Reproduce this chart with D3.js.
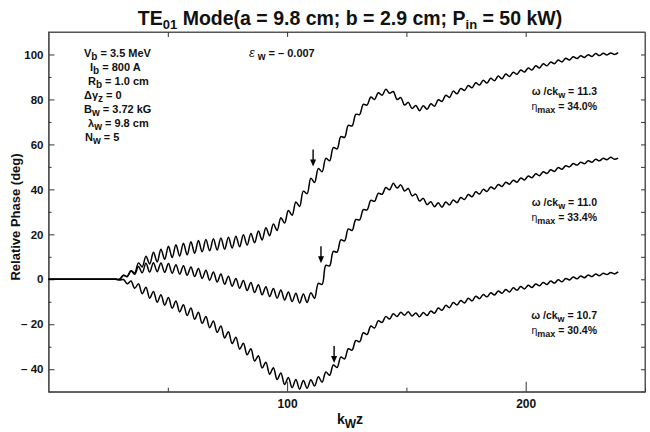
<!DOCTYPE html>
<html>
<head>
<meta charset="utf-8">
<script src="https://cdn.jsdelivr.net/npm/d3@7/dist/d3.min.js"></script>
<style>
  body { margin: 0; background: #fff; }
  svg { display: block; }
  text { font-family: "Liberation Sans", Arial, Helvetica, sans-serif; fill: #111; }
</style>
</head>
<body>
<svg id="chart" width="650" height="432"></svg>
<script>
// Relative phase vs. k_w z, sampled every half period of the wiggler ripple
const kStep = Math.PI / 2;

// omega/ck_w = 11.3
const phaseHigh = [
  0, 0, 0, 0, 0, 0, 0, 0, 0, 0, 0, 0, 0, 0, 0, 0, 0, 0, 0,
  0.0, 1.8, 1.2, 3.8, 2.8, 7.3, 5.5, 10.3, 6.8, 12.0, 7.7, 13.4, 8.9, 14.7, 9.7, 15.4, 10.3, 16.0, 10.9, 16.7,
  11.6, 17.3, 12.2, 17.7, 12.7, 18.0, 13.0, 18.4, 13.4, 18.7, 13.9, 19.2, 14.5, 19.8, 15.2, 20.4, 16.2, 21.5, 17.5, 22.9,
  19.4, 24.6, 21.7, 27.4, 25.0, 30.6, 28.5, 34.4, 32.4, 39.2, 38.1, 45.0, 43.1, 49.3, 47.8, 53.8, 52.7, 58.6, 58.0, 63.5,
  63.1, 68.5, 68.2, 73.4, 73.3, 77.8, 77.5, 81.1, 80.0, 83.0, 81.9, 84.5, 82.8, 83.5, 80.0, 80.8, 77.5, 78.7, 76.0, 77.3,
  75.0, 77.2, 75.6, 78.1, 77.0, 79.9, 79.1, 81.9, 80.9, 83.7, 82.5, 84.9, 84.0, 86.2, 85.2, 87.4, 86.4, 88.5, 87.3, 89.4,
  88.3, 90.4, 89.2, 91.3, 90.2, 92.1, 91.2, 93.1, 92.2, 94.0, 93.1, 95.0, 94.0, 95.9, 95.0, 96.7, 95.9, 97.5, 96.7, 98.3,
  97.5, 99.0, 98.2, 99.4, 98.7, 99.9, 99.1, 100.4, 99.5, 100.5, 99.8, 100.7, 100.0, 100.8
];

// omega/ck_w = 11.0
const phaseMid = [
  0, 0, 0, 0, 0, 0, 0, 0, 0, 0, 0, 0, 0, 0, 0, 0, 0, 0, 0,
  0.0, 1.8, 1.2, 3.8, 2.2, 5.7, 2.9, 7.1, 3.2, 7.4, 3.4, 7.3, 3.1, 7.0, 2.7, 6.5, 2.3, 6.0, 1.8, 5.5,
  1.2, 4.8, 0.4, 4.0, -0.4, 3.2, -1.2, 2.3, -2.2, 1.4, -3.1, 0.4, -4.0, -0.5, -5.0, -1.4, -5.9, -2.4, -6.9, -3.3,
  -7.7, -4.1, -8.4, -4.8, -9.2, -5.6, -9.9, -6.2, -10.5, -6.5, -10.3, -6.0, -8.5, -1.8, -2.3, 6.2, 6.0, 12.4, 12.1, 17.5,
  17.1, 22.4, 21.7, 26.6, 26.4, 31.0, 30.9, 35.1, 34.7, 38.3, 37.8, 40.8, 39.8, 42.7, 40.6, 42.0, 39.3, 40.4, 37.1, 37.9,
  34.8, 36.0, 33.2, 34.5, 32.3, 34.0, 32.1, 34.4, 33.1, 35.3, 34.1, 36.4, 35.5, 37.7, 36.7, 38.9, 37.9, 40.0, 39.1, 41.1,
  40.2, 42.2, 41.3, 43.2, 42.3, 44.1, 43.2, 45.1, 44.2, 45.9, 45.2, 46.9, 46.1, 47.8, 47.1, 48.7, 48.0, 49.7, 49.0, 50.5,
  50.0, 51.5, 50.8, 52.1, 51.4, 52.7, 52.1, 53.4, 52.7, 53.8, 53.2, 54.3, 53.4, 53.9
];

// omega/ck_w = 10.7
const phaseLow = [
  0, 0, 0, 0, 0, 0, 0, 0, 0, 0, 0, 0, 0, 0, 0, 0, 0, 0, 0,
  -0.3, -0.1, -2.0, -0.8, -4.0, -2.0, -6.4, -3.5, -8.4, -5.4, -10.2, -6.9, -11.5, -8.1, -12.9, -9.7, -14.5, -11.3, -16.1, -12.8,
  -17.8, -14.7, -19.6, -16.6, -21.5, -18.5, -23.6, -20.8, -26.1, -23.3, -28.6, -25.8, -31.1, -28.4, -33.6, -30.9, -36.4, -34.0, -39.5, -36.9,
  -42.2, -39.4, -44.6, -41.7, -46.8, -43.7, -48.2, -44.6, -48.9, -45.0, -48.5, -44.7, -47.5, -43.3, -45.8, -41.2, -42.7, -38.1, -39.2, -34.6,
  -35.4, -30.9, -31.5, -27.2, -27.8, -23.8, -24.6, -20.8, -21.7, -18.4, -19.2, -16.5, -17.7, -15.3, -16.6, -14.7, -16.0, -14.4, -16.3, -15.0,
  -16.7, -14.8, -16.1, -14.1, -15.1, -12.8, -13.8, -11.6, -12.6, -10.3, -11.4, -9.4, -10.5, -8.4, -9.6, -7.5, -8.6, -6.8, -7.8, -6.0,
  -7.0, -5.2, -6.2, -4.5, -5.6, -3.8, -4.9, -3.2, -4.3, -2.7, -3.6, -2.1, -2.9, -1.4, -2.3, -0.8, -1.7, -0.2, -1.1, 0.4,
  -0.3, 1.0, 0.2, 1.5, 0.7, 1.9, 1.2, 2.4, 1.6, 2.7, 2.1, 3.0, 2.4, 3.3
];

const seriesRatio = ["11.3", "11.0", "10.7"];
const seriesEta = ["34.0%", "33.4%", "30.4%"];
const arrowK = [110.9, 114.2, 119.7];   // saturation points marked with arrows
const labelPhase = [82, 32.5, -17.5];    // phase level where each series label sits

const yMajorTicks = [-40, -20, 0, 20, 40, 60, 80, 100];
const yMinorTicks = [-50, -30, -10, 10, 30, 50, 70, 90, 110];
const xMajorTicks = [100, 200];
const xMinorTicks = [50, 150, 250];
const xTopTicks = [50, 100, 150, 200];

const params = [
  ["V", "b", " = 3.5 MeV"],
  ["I", "b", " = 800 A"],
  ["R", "b", " = 1.0 cm"],
  ["\u0394\u03B3", "z", " = 0"],
  ["B", "w", " = 3.72 kG"],
  ["\u03BB", "w", " = 9.8 cm"],
  ["N", "w", " = 5"]
];
const paramX = [84, 90, 88, 84, 84, 88, 85];

const svg = d3.select("#chart");
const margin = { left: 48.5, right: 645, top: 32, bottom: 391.7 };

const x = d3.scaleLinear().domain([0, 250]).range([margin.left, margin.right]);
const y = d3.scaleLinear().domain([-50, 110]).range([margin.bottom, margin.top]);

// frame
svg.append("rect")
  .attr("x", margin.left).attr("y", margin.top)
  .attr("width", margin.right - margin.left).attr("height", margin.bottom - margin.top)
  .attr("fill", "none").attr("stroke", "#555").attr("stroke-width", 1);

const fmtY = d => d < 0 ? "\u2013 " + (-d) : String(d);

// left axis: labelled majors + short minors, ticks pointing inward
svg.append("g").attr("class", "yaxis").attr("transform", `translate(${margin.left},0)`)
  .call(d3.axisLeft(y).tickValues(yMajorTicks).tickSizeInner(-6).tickSizeOuter(0).tickPadding(5).tickFormat(fmtY));
svg.append("g").attr("transform", `translate(${margin.left},0)`)
  .call(d3.axisLeft(y).tickValues(yMinorTicks).tickSizeInner(-3).tickSizeOuter(0).tickFormat(""));
// right axis
svg.append("g").attr("transform", `translate(${margin.right},0)`)
  .call(d3.axisRight(y).tickValues(yMajorTicks.concat(yMinorTicks)).tickSizeInner(-4).tickSizeOuter(0).tickFormat(""));
// bottom axis
const gB = svg.append("g").attr("class", "xaxis").attr("transform", `translate(0,${margin.bottom})`)
  .call(d3.axisBottom(x).tickValues(xMajorTicks).tickSizeInner(-10).tickSizeOuter(0).tickPadding(6).tickFormat(d3.format("d")));
svg.append("g").attr("transform", `translate(0,${margin.bottom})`)
  .call(d3.axisBottom(x).tickValues(xMinorTicks).tickSizeInner(-4).tickSizeOuter(0).tickFormat(""));
// top axis
svg.append("g").attr("transform", `translate(0,${margin.top})`)
  .call(d3.axisTop(x).tickValues(xTopTicks).tickSizeInner(-5).tickSizeOuter(0).tickFormat(""));

svg.selectAll(".domain").attr("stroke", "#555");
svg.selectAll(".tick line").attr("stroke", "#333");
svg.selectAll(".tick text")
  .style("font-family", "'Liberation Sans', Arial, sans-serif")
  .style("font-weight", "bold").attr("fill", "#111");
svg.selectAll(".yaxis .tick text").style("font-size", "11.5px");
gB.selectAll(".tick text").style("font-size", "12px").attr("dy", "0.9em");

// curves
const line = d3.line()
  .x((d, i) => x(i * kStep))
  .y(d => y(d))
  .curve(d3.curveCatmullRom.alpha(0.5));

const series = [phaseHigh, phaseMid, phaseLow];
svg.append("g").selectAll("path").data(series).join("path")
  .attr("d", line)
  .attr("fill", "none").attr("stroke", "#000").attr("stroke-width", 1.5)
  .attr("stroke-linejoin", "round");

// arrows pointing at the saturation points
series.forEach((s, j) => {
  const i0 = Math.round(arrowK[j] / kStep);
  const top = Math.max(s[i0 - 1], s[i0], s[i0 + 1]);
  const ax = x(arrowK[j]);
  const tip = y(top) - 2;
  svg.append("line").attr("x1", ax).attr("x2", ax).attr("y1", tip - 17).attr("y2", tip - 5)
    .attr("stroke", "#000").attr("stroke-width", 1.4);
  svg.append("path")
    .attr("d", `M${ax - 3},${tip - 7} L${ax + 3},${tip - 7} L${ax},${tip} Z`)
    .attr("fill", "#000");
});

// series labels
series.forEach((s, j) => {
  const g = svg.append("g").attr("transform", `translate(597,${y(labelPhase[j])})`);
  const t1 = g.append("text").attr("text-anchor", "end").style("font-size", "10.5px").style("font-weight", "bold");
  t1.append("tspan").text("\u03C9 /ck");
  t1.append("tspan").attr("dy", 3).style("font-size", "9px").text("w");
  t1.append("tspan").attr("dy", -3).text(" = " + seriesRatio[j]);
  const t2 = g.append("text").attr("text-anchor", "end").attr("y", 15).style("font-size", "10.5px").style("font-weight", "bold");
  t2.append("tspan").style("font-weight", "normal").text("\u03B7");
  t2.append("tspan").attr("dy", 3).style("font-size", "9px").text("max");
  t2.append("tspan").attr("dy", -3).text(" = " + seriesEta[j]);
});

// parameter block
params.forEach((p, i) => {
  const t = svg.append("text").attr("x", paramX[i]).attr("y", 57 + i * 14)
    .style("font-size", "11px").style("font-weight", "bold");
  t.append("tspan").text(p[0]);
  t.append("tspan").attr("dy", 3).style("font-size", "10px").text(p[1]);
  t.append("tspan").attr("dy", -3).text(p[2]);
});

// wiggler taper
const eps = svg.append("text").attr("x", 249).attr("y", 57).style("font-size", "11px").style("font-weight", "bold");
eps.append("tspan").style("font-size", "13px").style("font-style", "italic").style("font-weight", "normal").text("\u03B5");
eps.append("tspan").attr("dy", 3).attr("dx", 3).style("font-size", "10px").text("w");
eps.append("tspan").attr("dy", -3).text(" = \u2013 0.007");

// title
const title = svg.append("text").attr("x", 350).attr("y", 25).attr("text-anchor", "middle")
  .style("font-size", "19.5px").style("font-weight", "bold");
title.append("tspan").text("TE");
title.append("tspan").attr("dy", 4).style("font-size", "13px").text("01");
title.append("tspan").attr("dy", -4).text(" Mode(a = 9.8 cm; b = 2.9 cm; P");
title.append("tspan").attr("dy", 4).style("font-size", "13px").text("in");
title.append("tspan").attr("dy", -4).text(" = 50 kW)");

// axis titles
const xt = svg.append("text").attr("x", 350).attr("y", 424).attr("text-anchor", "middle")
  .style("font-size", "14px").style("font-weight", "bold");
xt.append("tspan").text("k");
xt.append("tspan").attr("dy", 4).style("font-size", "12px").text("W");
xt.append("tspan").attr("dy", -4).text("z");

svg.append("text").attr("transform", "translate(20,217) rotate(-90)").attr("text-anchor", "middle")
  .style("font-size", "13px").style("font-weight", "bold").text("Relative Phase (deg)");
</script>
</body>
</html>
